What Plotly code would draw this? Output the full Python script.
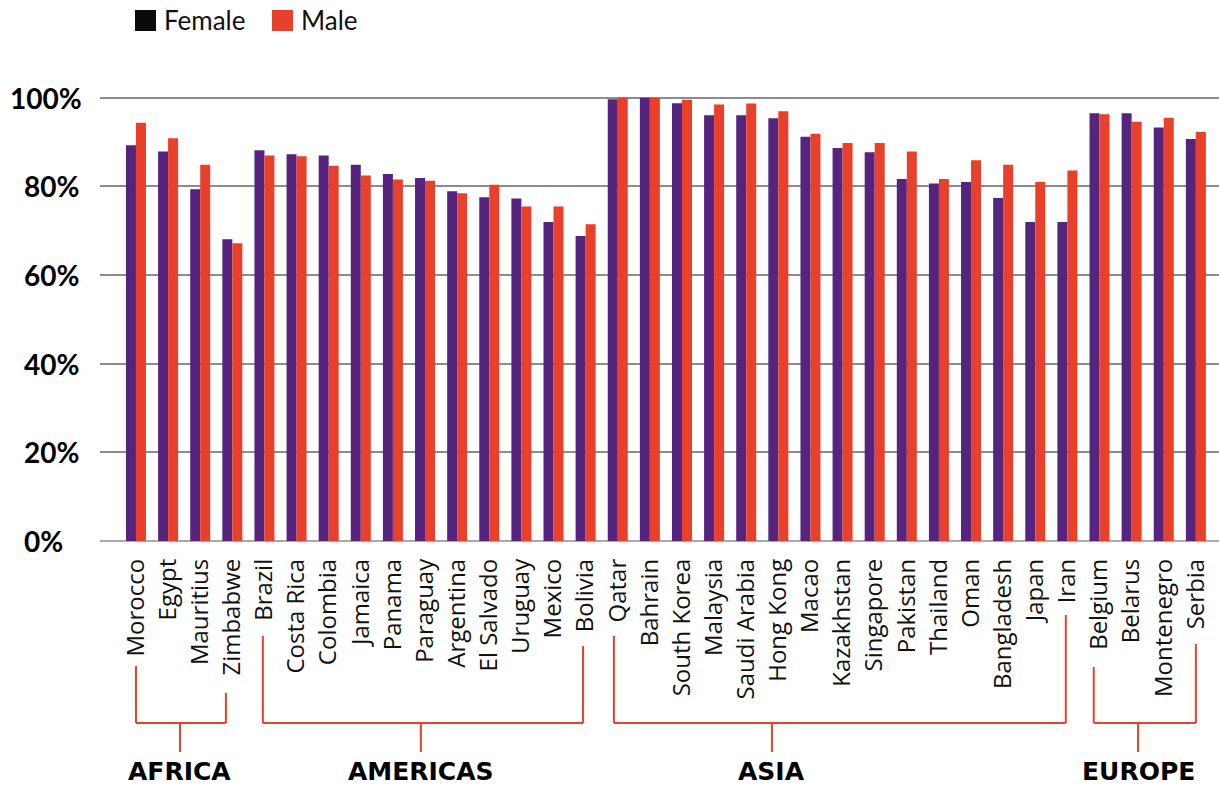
import plotly.graph_objects as go

# ---- data -------------------------------------------------------------
countries = [
    "Morocco", "Egypt", "Mauritius", "Zimbabwe",
    "Brazil", "Costa Rica", "Colombia", "Jamaica", "Panama", "Paraguay",
    "Argentina", "El Salvado", "Uruguay", "Mexico", "Bolivia",
    "Qatar", "Bahrain", "South Korea", "Malaysia", "Saudi Arabia",
    "Hong Kong", "Macao", "Kazakhstan", "Singapore", "Pakistan",
    "Thailand", "Oman", "Bangladesh", "Japan", "Iran",
    "Belgium", "Belarus", "Montenegro", "Serbia",
]
female = [
    89.3, 87.9, 79.4, 68.1,
    88.2, 87.3, 87.0, 84.9, 82.8, 81.9,
    78.9, 77.6, 77.3, 72.0, 68.8,
    99.7, 100.0, 98.8, 96.1, 96.1,
    95.4, 91.2, 88.7, 87.7, 81.7,
    80.7, 81.0, 77.4, 72.0, 72.0,
    96.5, 96.5, 93.3, 90.7,
]
male = [
    94.4, 90.9, 84.9, 67.2,
    87.0, 86.8, 84.7, 82.5, 81.6, 81.3,
    78.5, 80.4, 75.5, 75.5, 71.5,
    100.0, 100.0, 99.6, 98.5, 98.7,
    97.0, 91.9, 89.8, 89.8, 87.9,
    81.7, 85.9, 84.9, 81.0, 83.6,
    96.3, 94.6, 95.5, 92.3,
]
regions = ["AFRICA", "AMERICAS", "ASIA", "EUROPE"]
region_first = ["Morocco", "Brazil", "Qatar", "Belgium"]
region_last = ["Zimbabwe", "Bolivia", "Iran", "Serbia"]
y_ticks = [0, 20, 40, 60, 80, 100]
y_tick_labels = ["0%", "20%", "40%", "60%", "80%", "100%"]

# ---- styling ----------------------------------------------------------
W, H = 1219, 787
PLOT_LEFT, PLOT_RIGHT = 100, 1219
PLOT_TOP, PLOT_BOTTOM = 89, 541
PURPLE = "#56237f"
RED = "#e8402a"
GRID = "#8c8c8c"
FONT = "Lato"
LABEL_FONT = "Open Sans"
REGION_FONT = "DejaVu Sans"

# bracket arms: (top in pixels, sideways nudge in category units),
# keyed by the country each arm sits under
arms = {
    "Morocco": (666, 0.0), "Zimbabwe": (693, -0.2),
    "Brazil": (636, -0.05), "Bolivia": (646, -0.08),
    "Qatar": (636, -0.12), "Iran": (615, -0.05),
    "Belgium": (667, -0.18), "Serbia": (644, 0.0),
}
# where the stem leaves each bracket, as a position on the category axis
stem_at = {"AFRICA": 1.37, "AMERICAS": 8.87, "ASIA": 19.8, "EUROPE": 31.2}
BRACKET_Y_PX = 723
STEM_BOTTOM_PX = 752
REGION_TEXT_PX = 771


def paper_y(py):
    return (PLOT_BOTTOM - py) / (PLOT_BOTTOM - PLOT_TOP)


def paper_x(px):
    return (px - PLOT_LEFT) / (PLOT_RIGHT - PLOT_LEFT)


idx = list(range(len(countries)))
pos = {c: i for i, c in enumerate(countries)}

fig = go.Figure()
fig.add_trace(go.Bar(x=idx, y=female, name="Female", marker_color=PURPLE,
                     marker_line_width=0, showlegend=False))
fig.add_trace(go.Bar(x=idx, y=male, name="Male", marker_color=RED,
                     marker_line_width=0, showlegend=False))

shapes = []
annotations = []

# region brackets underneath the country names
for name, first, last in zip(regions, region_first, region_last):
    top0, nudge0 = arms[first]
    top1, nudge1 = arms[last]
    x0, x1 = pos[first] + nudge0, pos[last] + nudge1
    xm = stem_at[name]
    line = dict(color=RED, width=2)
    shapes += [
        dict(type="line", xref="x", yref="paper", x0=x0, x1=x0,
             y0=paper_y(top0), y1=paper_y(BRACKET_Y_PX), line=line),
        dict(type="line", xref="x", yref="paper", x0=x1, x1=x1,
             y0=paper_y(top1), y1=paper_y(BRACKET_Y_PX), line=line),
        dict(type="line", xref="x", yref="paper", x0=x0, x1=x1,
             y0=paper_y(BRACKET_Y_PX), y1=paper_y(BRACKET_Y_PX), line=line),
        dict(type="line", xref="x", yref="paper", x0=xm, x1=xm,
             y0=paper_y(BRACKET_Y_PX), y1=paper_y(STEM_BOTTOM_PX), line=line),
    ]
    annotations.append(dict(
        text=f"<b>{name}</b>", xref="x", yref="paper", x=xm,
        y=paper_y(REGION_TEXT_PX), xanchor="center", yanchor="middle",
        showarrow=False, font=dict(family=REGION_FONT, size=25, color="#000"),
    ))

# y-axis labels, left aligned
for v, lab in zip(y_ticks, y_tick_labels):
    px = 8 if v == 100 else 22
    annotations.append(dict(
        text=f"<b>{lab}</b>", xref="paper", yref="y", x=paper_x(px), y=v,
        xanchor="left", yanchor="middle", showarrow=False,
        font=dict(family=FONT, size=28, color="#000"),
    ))

# legend
for sq_left, color, label in [(135, "#0a0a0a", "Female"), (272, RED, "Male")]:
    shapes.append(dict(type="rect", xref="paper", yref="paper",
                       x0=paper_x(sq_left), x1=paper_x(sq_left + 21),
                       y0=paper_y(31), y1=paper_y(10),
                       fillcolor=color, line=dict(width=0)))
    annotations.append(dict(
        text=label, xref="paper", yref="paper", x=paper_x(sq_left + 27),
        y=paper_y(20.5), xanchor="left", yanchor="middle", showarrow=False,
        font=dict(family=FONT, size=26, color="#111"),
    ))

fig.update_layout(
    width=W, height=H,
    margin=dict(l=PLOT_LEFT, r=W - PLOT_RIGHT, t=PLOT_TOP, b=H - PLOT_BOTTOM, pad=0),
    paper_bgcolor="white", plot_bgcolor="white",
    barmode="group", bargap=0.377, bargroupgap=0,
    shapes=shapes, annotations=annotations,
    font=dict(family=FONT, color="#111"),
)
fig.update_xaxes(
    range=[-1.12, 33.72], tickmode="array", tickvals=idx, ticktext=countries,
    tickangle=-90, tickfont=dict(family=LABEL_FONT, size=24, color="#111"),
    ticklabelstandoff=12, showgrid=False, zeroline=False, showline=False,
    ticks="",
)
fig.update_yaxes(
    range=[0, 102], tickvals=y_ticks, showticklabels=False,
    showgrid=True, gridcolor=GRID, gridwidth=1.5,
    zeroline=True, zerolinecolor="#aaaaaa", zerolinewidth=2,
    showline=False, ticks="",
)

fig.write_html("out.html")
